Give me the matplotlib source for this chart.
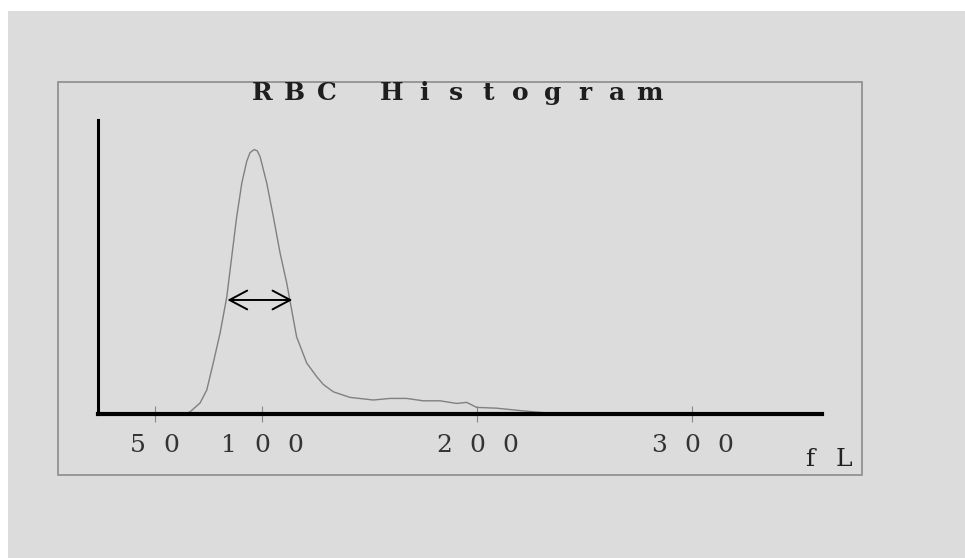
import matplotlib
matplotlib.use("Agg")
import matplotlib.pyplot as plt
from matplotlib.patches import Rectangle
from matplotlib.transforms import IdentityTransform

# RBC volume distribution (fL vs relative count)
mcv_fl = [64.0, 66.5, 71.2, 74.3, 77.3, 80.5, 83.6, 85.9, 88.2, 90.6, 92.9,
          94.4, 96.3, 97.8, 99.1, 102.2, 105.3, 108.4, 111.5, 113.8, 116.1,
          120.8, 125.4, 128.5, 133.2, 140.9, 151.8, 159.5, 167.3, 175.0,
          182.8, 190.5, 195.2, 199.9, 209.2, 220.0, 230.8, 234.0]
rel_count = [0.0, 0.8, 4.2, 9.1, 19.3, 30.7, 44.3, 59.5, 74.6, 87.5, 95.8,
             99.0, 100.2, 99.7, 97.5, 87.5, 74.6, 61.0, 49.6, 39.4, 29.2,
             19.3, 14.2, 11.2, 8.4, 6.3, 5.3, 5.9, 5.9, 5.0,
             5.0, 4.0, 4.4, 2.5, 2.2, 1.3, 0.5, 0.0]

x_ticks = [50, 100, 200, 300]
x_tick_labels = ["50", "100", "200", "300"]
title = "RBC Histogram"
unit_label = "fL"

# half-height width marker
rdw_left, rdw_right, rdw_level = 83.9, 114.1, 43.2

W, H = 965, 558
BG = "#dcdcdc"
FONT = "DejaVu Serif"


def typewriter(fig, cx, cy, s, advance, **kw):
    """Place characters one by one with a fixed pixel advance (printer look).
    cx, cy are pixel coords measured from the top-left corner."""
    x0 = cx - advance * (len(s) - 1) / 2
    for i, ch in enumerate(s):
        if ch == " ":
            continue
        fig.text(x0 + i * advance, H - cy, ch, transform=IdentityTransform(),
                 ha="center", va="center", family=FONT, **kw)


fig = plt.figure(figsize=(W / 100, H / 100), dpi=100, facecolor="white")

# scanned paper area (thin white strip on top/left)
fig.patches.append(Rectangle((8 / W, 0), 1 - 8 / W, (H - 11) / H,
                             transform=fig.transFigure, facecolor=BG,
                             edgecolor="none", zorder=-10))
# printed frame
fig.patches.append(Rectangle((58 / W, 1 - 475 / H), 804 / W, 393 / H,
                             transform=fig.transFigure, facecolor="none",
                             edgecolor="#8c8c8c", lw=1.2, zorder=-5))

ax = fig.add_axes([98 / W, 1 - 414 / H, (822 - 98) / W, (414 - 120) / H])
ax.set_facecolor("none")
ax.set_zorder(5)
ax.set_xlim(23.7, 360.5)
ax.set_ylim(0, 111.4)

ax.plot(mcv_fl, rel_count, color="#808080", lw=1.0)

ax.annotate("", xy=(rdw_left, rdw_level), xytext=(rdw_right, rdw_level),
            arrowprops=dict(arrowstyle="<->,head_length=0.85,head_width=0.45",
                            color="black", lw=1.4, mutation_scale=15,
                            shrinkA=0, shrinkB=0))

for side in ["top", "right"]:
    ax.spines[side].set_visible(False)
ax.spines["left"].set_linewidth(2.2)
ax.spines["bottom"].set_linewidth(3.0)
ax.spines["left"].set_color("black")
ax.spines["bottom"].set_color("black")

ax.set_yticks([])
ax.set_xticks(x_ticks)
ax.set_xticklabels([""] * len(x_ticks))
ax.tick_params(axis="x", direction="inout", length=11, width=0.8,
               color="#888888")

# labels drawn in printer style
typewriter(fig, 456, 93, title, 32.3, fontsize=18, fontweight="bold",
           color="#1e1e1e")
for v, lab in zip(x_ticks, x_tick_labels):
    px = ax.transData.transform((v, 0))[0]
    typewriter(fig, px, 445, lab, 33, fontsize=18, color="#333333")
typewriter(fig, 827, 460, unit_label, 34, fontsize=18, color="#222222")

fig.savefig("out.png", dpi=100, facecolor=fig.get_facecolor())
